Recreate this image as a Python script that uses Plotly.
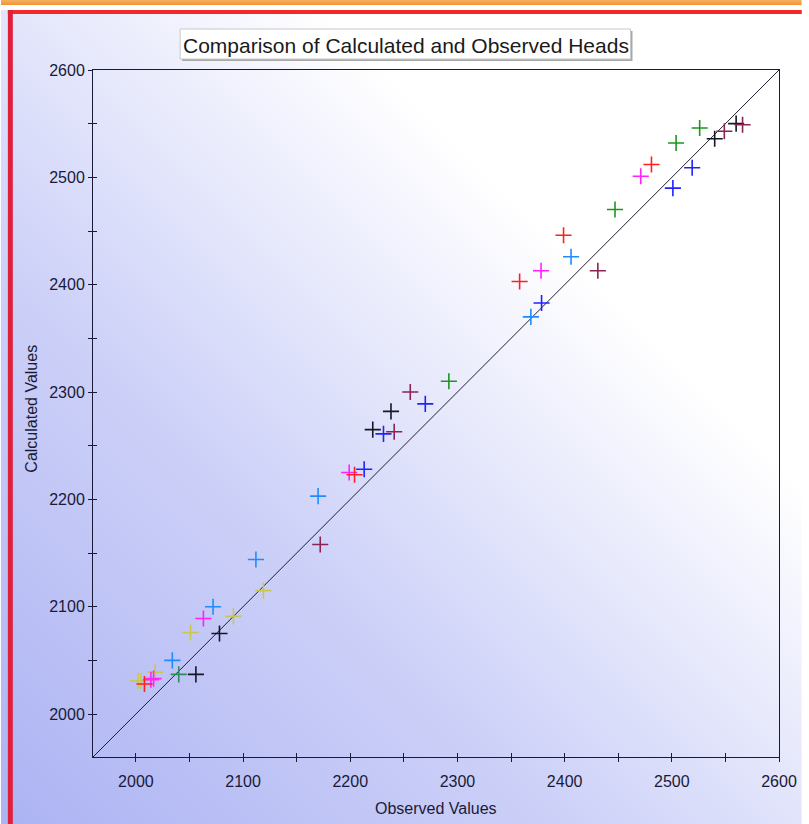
import base64
import plotly.graph_objects as go

# ---------------- data ----------------
AXIS_RANGE = [1960, 2600]
TICK_VALUES = [2000, 2050, 2100, 2150, 2200, 2250, 2300, 2350, 2400, 2450, 2500, 2550, 2600]
TICK_LABELS = ["2000", "", "2100", "", "2200", "", "2300", "", "2400", "", "2500", "", "2600"]

red_obs = [2481, 2399, 2358, 2204, 2008]
red_calc = [2512, 2446, 2403, 2223, 2028]

magenta_obs = [2471, 2378, 2199, 2063, 2014, 2016.5]
magenta_calc = [2501, 2413, 2225, 2089, 2032, 2033]

blue_obs = [2519, 2501, 2378.5, 2270, 2231, 2213]
blue_calc = [2509, 2490, 2383, 2289, 2261, 2228]

lightblue_obs = [2406, 2368.5, 2170, 2112, 2072, 2034]
lightblue_calc = [2426, 2370, 2203, 2144, 2100, 2050]

green_obs = [2526, 2504, 2447, 2292]
green_calc = [2546, 2532, 2470, 2310]

black_obs = [2560, 2540, 2238, 2221, 2078, 2056]
black_calc = [2550, 2536, 2282, 2265, 2075, 2037]

maroon_obs = [2566, 2549, 2431, 2256, 2241, 2172]
maroon_calc = [2549, 2543, 2413, 2300, 2263, 2158]

yellow_obs = [2119, 2091, 2051, 2018, 2002, 2004.5]
yellow_calc = [2115, 2091, 2076, 2039, 2031, 2031]

teal_obs = [2040]
teal_calc = [2037]

SERIES = [
    ("yellow", "#C8C84E", yellow_obs, yellow_calc),
    ("teal", "#2E8B5E", teal_obs, teal_calc),
    ("lightblue", "#1E8CFF", lightblue_obs, lightblue_calc),
    ("black", "#161628", black_obs, black_calc),
    ("maroon", "#8B2454", maroon_obs, maroon_calc),
    ("magenta", "#FF22FF", magenta_obs, magenta_calc),
    ("blue", "#2222FF", blue_obs, blue_calc),
    ("green", "#1E961E", green_obs, green_calc),
    ("red", "#FF2020", red_obs, red_calc),
]

# ---------------- layout geometry ----------------
W, H = 809, 824
ML, MR, MT, MB = 93, 23, 70, 67
PW, PH = W - ML - MR, H - MT - MB


def xp(px):
    return (px - ML) / PW


def yp(py):
    return (H - MB - py) / PH


AXCOL = "#1A1A38"
FONT = "Liberation Sans, Arial, sans-serif"

# background: diagonal gradient + window borders
svg = f"""<svg xmlns='http://www.w3.org/2000/svg' width='{W}' height='{H}' viewBox='0 0 {W} {H}' preserveAspectRatio='none'>
<defs>
<linearGradient id='g' gradientUnits='userSpaceOnUse' x1='0' y1='{H}' x2='{W}' y2='0'>
<stop offset='0' stop-color='#ACB3F3'/>
<stop offset='0.35' stop-color='#CDD1F8'/>
<stop offset='0.7' stop-color='#FFFFFF'/>
<stop offset='1' stop-color='#FFFFFF'/>
</linearGradient>
<linearGradient id='o' x1='0' y1='0' x2='0' y2='1'>
<stop offset='0' stop-color='#F6B060'/>
<stop offset='1' stop-color='#F39236'/>
</linearGradient>
</defs>
<rect x='0' y='0' width='{W}' height='{H}' fill='url(#g)'/>
<rect x='0' y='0' width='{W}' height='10' fill='#FFFFFF'/>
<rect x='0' y='0' width='{W}' height='5' fill='url(#o)'/>
<rect x='7' y='10' width='{W}' height='4' fill='#F42828'/>
<rect x='7' y='10' width='5' height='{H}' fill='#E0203A'/>
</svg>"""
svg_uri = "data:image/svg+xml;base64," + base64.b64encode(svg.encode()).decode()

fig = go.Figure()

# 1:1 line
fig.add_trace(go.Scatter(
    x=AXIS_RANGE, y=AXIS_RANGE, mode="lines",
    line=dict(color="#202030", width=1), xaxis="x", yaxis="y",
    showlegend=False, hoverinfo="skip"))

for name, color, obs, calc in SERIES:
    fig.add_trace(go.Scatter(
        x=obs, y=calc, mode="markers", name=name,
        marker=dict(symbol="cross-thin", size=11.5, color=color,
                    line=dict(color=color, width=1.6)),
        xaxis="x2", yaxis="y2", showlegend=False, cliponaxis=False))

common = dict(range=AXIS_RANGE, tickmode="array", tickvals=TICK_VALUES,
              ticklen=4, tickwidth=1, tickcolor=AXCOL, showgrid=False,
              zeroline=False, fixedrange=True)

fig.update_layout(
    width=W, height=H,
    margin=dict(l=ML, r=MR, t=MT, b=MB, pad=0),
    paper_bgcolor="#FFFFFF", plot_bgcolor="rgba(0,0,0,0)",
    font=dict(family=FONT, color=AXCOL),
    showlegend=False,
    xaxis=dict(**common, ticktext=TICK_LABELS, ticks="outside", showline=True,
               linecolor=AXCOL, linewidth=1, mirror=True,
               tickfont=dict(size=16, color=AXCOL, family=FONT), ticklabelstandoff=6),
    yaxis=dict(**common, ticktext=TICK_LABELS, ticks="outside", showline=True,
               linecolor=AXCOL, linewidth=1, mirror=True,
               tickfont=dict(size=16, color=AXCOL, family=FONT)),
    xaxis2=dict(**common, overlaying="x", anchor="y2", side="bottom",
                ticks="inside", showticklabels=False, showline=False),
    yaxis2=dict(**common, overlaying="y", anchor="x2", side="left",
                ticks="inside", showticklabels=False, showline=False),
    images=[dict(source=svg_uri, xref="paper", yref="paper",
                 x=xp(0), y=yp(0), sizex=W / PW, sizey=H / PH,
                 xanchor="left", yanchor="top", sizing="stretch",
                 layer="below")],
    shapes=[
        dict(type="rect", xref="paper", yref="paper",
             x0=xp(183), x1=xp(638), y0=yp(31), y1=yp(61),
             fillcolor="#A8A8A8", line=dict(width=0)),
        dict(type="rect", xref="paper", yref="paper",
             x0=xp(181), x1=xp(636), y0=yp(29), y1=yp(59),
             fillcolor="#FFFFFF", line=dict(color="#C8C8C8", width=1)),
    ],
    annotations=[
        dict(text="Comparison of Calculated and Observed Heads",
             xref="paper", yref="paper", x=xp(409), y=yp(45),
             xanchor="center", yanchor="middle", showarrow=False,
             font=dict(size=21, color="#1A1A1A", family=FONT)),
        dict(text="Observed Values", xref="paper", yref="paper",
             x=xp(440), y=yp(808), xanchor="center", yanchor="middle",
             showarrow=False, font=dict(size=16, color=AXCOL, family=FONT)),
        dict(text="Calculated Values", xref="paper", yref="paper",
             x=xp(30), y=yp(409), xanchor="center", yanchor="middle",
             textangle=-90, showarrow=False,
             font=dict(size=16, color=AXCOL, family=FONT)),
    ],
)

fig.write_html("out.html",
               config={"displayModeBar": False},
               post_script="document.body.style.margin='0px';document.body.style.overflow='hidden';")
